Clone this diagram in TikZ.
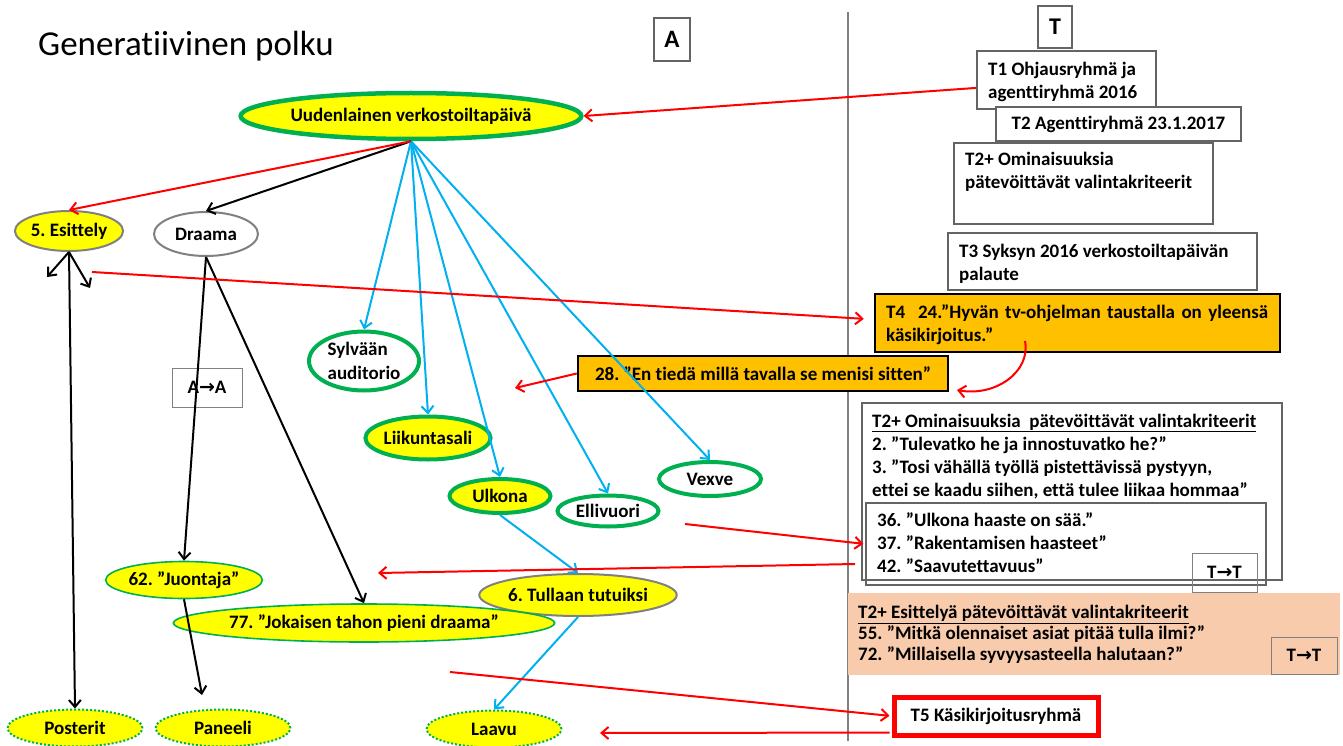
\documentclass[tikz,border=0pt]{standalone}
\usepackage{fontspec}
\setmainfont{Carlito}[Ligatures=NoCommon]
\newfontfamily\arrowfont{DejaVu Sans}
\usetikzlibrary{arrows.meta,shapes.geometric}
\frenchspacing

\definecolor{markyellow}{RGB}{255,255,0}
\definecolor{officegreen}{RGB}{0,176,80}
\definecolor{linkblue}{RGB}{0,176,240}
\definecolor{linkred}{RGB}{255,0,0}
\definecolor{quoteamber}{RGB}{255,192,0}
\definecolor{peach}{RGB}{248,203,173}
\definecolor{rimgray}{RGB}{128,128,128}
\definecolor{boxgray}{RGB}{100,100,100}

\newcommand{\tto}{{\arrowfont\bfseries →}}

\begin{document}
\begin{tikzpicture}[x=1pt,y=-1pt,
  font=\bfseries\fontsize{19}{23}\selectfont,
  spot/.style={ellipse, inner sep=0pt, draw=officegreen, line width=4pt},
  grayspot/.style={ellipse, inner sep=0pt, draw=rimgray, line width=2pt},
  thinspot/.style={ellipse, inner sep=0pt, draw=officegreen, line width=1.6pt, fill=markyellow},
  dotspot/.style={ellipse, inner sep=0pt, draw=officegreen, line width=2pt,
    dash pattern=on 2pt off 2pt, fill=markyellow},
  panel/.style={rectangle, draw=boxgray, line width=1.4pt, inner sep=0pt},
  quotebox/.style={rectangle, draw=black, line width=2.5pt, fill=quoteamber, inner sep=0pt},
  lines/.style={anchor=north west, inner sep=0pt, align=left},
  link/.style={line width=2pt, -{Straight Barb[length=7pt,width=12pt]}},
  redlink/.style={link, draw=linkred},
  bluelink/.style={link, draw=linkblue},
  blacklink/.style={link, draw=black},
]
\useasboundingbox (0,0) rectangle (1343,746);

% heading and column labels
\node[font=\fontsize{35}{40}\selectfont, anchor=west, inner sep=0pt] (title) at (38,46) {Generatiivinen polku};
\node[panel, minimum width=36pt, minimum height=43pt, font=\bfseries\fontsize{25}{30}\selectfont] (colA) at (672,39.5) {A};
\node[panel, minimum width=34pt, minimum height=42pt, font=\bfseries\fontsize{24}{30}\selectfont] (colT) at (1055,27) {T};

% divider between the columns
\draw[rimgray, line width=2pt] (848,12) -- (848,741);

% ---- left column: the path of ideas ----
\node[spot, fill=markyellow, line width=4.5pt, minimum width=278pt, minimum height=46pt] (main) at (411,116) {Uudenlainen verkostoiltapäivä};
\node[grayspot, fill=markyellow, minimum width=102pt, minimum height=40pt] (esit) at (69,231) {5. Esittely};
\node[grayspot, fill=white, minimum width=104pt, minimum height=44pt] (draama) at (206,234) {Draama};

\node[spot, fill=white, minimum width=110pt, minimum height=59pt, align=left,
  font=\bfseries\fontsize{19}{24}\selectfont] (sylv) at (364,361) {Sylvään\\auditorio};
\node[spot, fill=markyellow, minimum width=116pt, minimum height=43pt] (liik) at (428,438) {Liikuntasali};
\node[spot, fill=markyellow, minimum width=101pt, minimum height=34pt] (ulk) at (500,496) {Ulkona};
\node[spot, fill=white, minimum width=101pt, minimum height=31pt] (elli) at (608,511) {Ellivuori};
\node[spot, fill=white, minimum width=102pt, minimum height=34pt] (vex) at (710,479) {Vexve};
\node[grayspot, fill=markyellow, minimum width=162pt, minimum height=42pt] (tul) at (578,595) {6. Tullaan tutuiksi};

\node[thinspot, minimum width=151pt, minimum height=37pt] (jnt) at (184,580) {62. ”Juontaja”};
\node[thinspot, minimum width=326pt, minimum height=38pt] (drama77) at (364,623) {77. ”Jokaisen tahon pieni draama”};

\node[dotspot, minimum width=135pt, minimum height=37pt] (post) at (75,728) {Posterit};
\node[dotspot, minimum width=135pt, minimum height=37pt] (pan) at (223,728) {Paneeli};
\node[dotspot, minimum width=135pt, minimum height=37pt] (laavu) at (494,729) {Laavu};

\node[panel, draw=rimgray, line width=1pt, minimum width=70pt, minimum height=39pt] (aa) at (207,387.5) {A\tto A};

% ---- right column: the sources ----
\node[panel, minimum width=179pt, minimum height=58pt] (t1) at (1066.5,80) {};
\node[lines] (t1txt) at (988,61.5) {T1 Ohjausryhmä ja\\agenttiryhmä 2016};
\node[panel, fill=white, minimum width=245pt, minimum height=34pt] (t2) at (1118.5,124) {T2 Agenttiryhmä 23.1.2017};
\node[panel, minimum width=259pt, minimum height=81pt] (t2a) at (1083.5,183.5) {};
\node[lines] (t2atxt) at (965,151.5) {T2+ Ominaisuuksia\\pätevöittävät valintakriteerit};
\node[panel, minimum width=309pt, minimum height=57pt] (t3) at (1102.5,261.5) {};
\node[lines] (t3txt) at (959,243.5) {T3 Syksyn 2016 verkostoiltapäivän\\palaute};

\node[quotebox, minimum width=405pt, minimum height=58pt] (t4) at (1077.5,323) {};
\node[lines] (t4txt) at (886,304.5) {\makebox[382pt][s]{T4\ \ 24.”Hyvän tv-ohjelman taustalla on yleensä}\\käsikirjoitus.”};
\node[quotebox, minimum width=370pt, minimum height=35pt] (q28) at (763,373.5) {28. ”En tiedä millä tavalla se menisi sitten”};

\node[panel, minimum width=420pt, minimum height=177pt] (crit) at (1072,491.5) {};
\node[lines] (crittxt) at (872,413.5) {\underline{T2+ Ominaisuuksia\ \ pätevöittävät valintakriteerit}\\2. ”Tulevatko he ja innostuvatko he?”\\3. ”Tosi vähällä työllä pistettävissä pystyyn,\\ettei se kaadu siihen, että tulee liikaa hommaa”};
\node[panel, minimum width=400pt, minimum height=82pt] (inner) at (1066,544) {};
\node[lines] (innertxt) at (877,512.5) {36. ”Ulkona haaste on sää.”\\37. ”Rakentamisen haasteet”\\42. ”Saavutettavuus”};
\node[panel, draw=rimgray, line width=1pt, minimum width=65pt, minimum height=39pt] (tt1) at (1224.5,572.5) {T\tto T};

\node[rectangle, fill=peach, inner sep=0pt, minimum width=492pt, minimum height=82pt] (pres) at (1094,634) {};
\node[lines, font=\bfseries\fontsize{19}{21}\selectfont] (prestxt) at (858,605) {\underline{T2+ Esittelyä pätevöittävät valintakriteerit}\\55. ”Mitkä olennaiset asiat pitää tulla ilmi?”\\72. ”Millaisella syvyysasteella halutaan?”};
\node[panel, draw=rimgray, line width=1pt, minimum width=66pt, minimum height=37pt] (tt2) at (1304,655.5) {T\tto T};

\node[rectangle, draw=linkred, line width=5pt, fill=white, inner sep=0pt, minimum width=204pt, minimum height=38pt] (t5) at (996,716) {T5 Käsikirjoitusryhmä};

% free ends of connectors
\coordinate (esitL) at (47,277);
\coordinate (esitR) at (90,288);
\coordinate (panTip) at (202,695);
\coordinate (esitTail) at (92,272);
\coordinate (quoteTip) at (515,388);
\coordinate (curlTail) at (1025,341);
\coordinate (curlTip) at (957,390);
\coordinate (elliTail) at (685,524);
\coordinate (innerTail) at (855,564);
\coordinate (juonTip) at (378,573);
\coordinate (draamaTail) at (450,672);
\coordinate (laavuTip) at (600,733);

% black connectors
\draw[blacklink] (main.south) -- (draama.north);
\draw[blacklink] (esit.south) -- (esitL);
\draw[blacklink] (esit.south) -- (esitR);
\draw[blacklink] (esit.south) -- (post.north);
\draw[blacklink] (draama.south) -- (jnt.north);
\draw[blacklink] (draama.south) -- (drama77.north);
\draw[blacklink] (jnt.south) -- (panTip);

% blue connectors
\foreach \dest in {sylv,liik,ulk,elli,vex}
  \draw[bluelink] (main.south) -- (\dest.north);
\draw[bluelink] (ulk.south) -- (tul.north);
\draw[bluelink] (tul.south) -- (laavu.north);

% red connectors
\draw[redlink] (t1.185) -- (main.east);
\draw[redlink] (main.south) -- (esit.north);
\draw[redlink, shorten >=10pt] (esitTail) -- (t4.179);
\draw[redlink] (q28.west) -- (quoteTip);
\draw[redlink] (curlTail) .. controls (1031,372) and (995,397) .. (curlTip);
\draw[redlink, shorten >=2pt] (elliTail) -- (inner.west);
\draw[redlink] (innerTail) -- (juonTip);
\draw[redlink, shorten >=2pt] (draamaTail) -- (t5.west);
\draw[redlink, shorten <=2pt] (t5.189) -- (laavuTip);
\end{tikzpicture}
\end{document}
